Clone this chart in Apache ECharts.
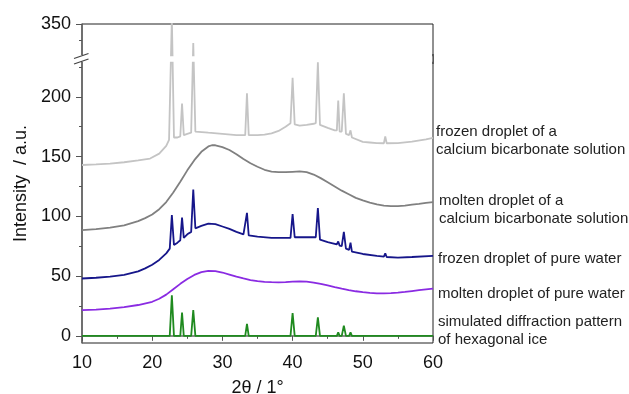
<!DOCTYPE html>
<html>
<head>
<meta charset="utf-8">
<script src="https://cdn.jsdelivr.net/npm/echarts@6/dist/echarts.min.js"></script>
<style>
  html, body { margin: 0; padding: 0; background: #fff; }
  #main { width: 629px; height: 394px; }
</style>
</head>
<body>
<div id="main"></div>
<script>
// 2theta, intensity pairs
var hexIce = [[10,0],[22.5,0],[22.8,34],[23.1,0],[24.0,0],[24.25,19.5],[24.5,0],[25.55,0],[25.85,21.5],[26.15,0],
  [33.25,0],[33.5,10],[33.75,0],[39.7,0],[40.0,19],[40.3,0],[43.3,0],[43.6,15.5],[43.9,0],[46.3,0],[46.5,3],[46.7,0],
  [47.0,0],[47.3,8.5],[47.6,0],[48.05,0],[48.25,3],[48.45,0],[53.0,0],[53.2,1],[53.4,0],[60,0]];

var moltenWater = [[10,21.5],[12,22],[14,22.8],[16,24],[18,25.8],[20,28.5],[21,31],[22,34.5],[23,39],[24,43.5],
  [25,47.5],[26,51],[27,53.3],[28,54.4],[29,54.2],[30,53],[31,51.3],[32,49.5],[33,48],[34,46.7],[35,45.8],[36,45.2],
  [37,44.9],[38,44.8],[39,45],[40,45.3],[41,45.5],[42,45.3],[43,44.6],[44,43.5],[45,42.2],[46,40.8],[47,39.5],
  [48,38.3],[49,37.3],[50,36.6],[51,36],[52,35.6],[53,35.5],[54,35.7],[55,36.2],[56,36.8],[57,37.5],[58,38.2],
  [59,38.9],[60,39.6]];

var frozenWater = [[10,48],[12,48.6],[14,49.5],[16,51],[18,54],[19,56.5],[20,59.5],[21,63.5],[22,69],[22.5,73],
  [22.8,101],[23.1,76],[23.6,78],[24.0,80],[24.25,99],[24.5,82],[25.0,85],[25.55,87],[25.85,122.5],[26.15,90],
  [27,92],[28,94],[29,93.5],[30,91.5],[31,89.5],[32,87],[33,85],[33.25,84.5],[33.5,103],[33.75,84],[35,83],[37,82],
  [39,82],[39.7,82],[40.0,102],[40.3,82.5],[41,82.5],[43.3,82.5],[43.6,107],[43.9,80.5],[45,78.5],[46.3,76.5],
  [46.5,79],[46.7,75.5],[47.0,75],[47.3,87],[47.6,73],[48.05,72],[48.25,78],[48.45,70.5],[50,68.5],[52,67],
  [53.0,66.3],[53.2,69],[53.4,66],[55,65.5],[57,66],[60,67]];

var moltenCalcium = [[10,88.5],[12,89.3],[14,90.5],[16,92.5],[18,96],[19,98.5],[20,101.5],[21,106],[22,112],
  [23,120],[24,129],[25,138.5],[26,147],[27,154],[28,158.5],[28.5,159.5],[29,159.5],[30,158],[31,155.5],[32,152],
  [33,148],[34,144.5],[35,141.5],[36,139],[37,137.5],[38,137],[39,137],[40,137.3],[41,137.6],[42,137],[43,135],
  [44,132],[45,128.5],[46,125],[47,121.5],[48,118.5],[49,115.5],[50,113.3],[51,111.5],[52,110],[53,109],
  [54,108.5],[55,108.5],[56,109],[57,109.8],[58,110.5],[59,111.3],[60,112]];

var frozenCalcium = [[10,143],[12,143.5],[14,144.2],[16,145.3],[18,146.8],[19.7,148.4],[21,152.5],[22,159],
  [22.4,164],[22.8,355],[23.1,166],[23.6,166],[24.0,167],[24.25,194.5],[24.5,168],[25.0,169],[25.55,170],
  [25.85,334],[26.15,171],[28,170],[30,169],[32,168],[33.25,168],[33.5,203],[33.75,168],[35,168],[36,168.4],
  [37,169.5],[38,171.5],[39,175],[39.7,178],[40.0,216],[40.3,177],[41,176],[42,176.5],[43,177.5],[43.3,178],
  [43.6,229],[43.9,176.5],[45,174],[46,172],[46.3,172],[46.5,197],[46.7,171],[47.0,171],[47.3,203],[47.6,169],
  [48.05,168],[48.25,172],[48.45,166],[50,162.3],[51,161.8],[52,161.3],[53.0,161.2],[53.2,167],[53.4,161.2],
  [55,161.3],[57,162.5],[59,164.5],[60,165.7]];

var xTicks = [10, 20, 30, 40, 50, 60];
var yTicks = [0, 50, 100, 150, 200, 350];
var yMinorTicks = [25, 75, 125, 175, 225, 336.5];
var yBreak = { start: 230, end: 323 };

var seriesNames = [
  ['frozen droplet of a', 'calcium bicarbonate solution'],
  ['molten droplet of a', 'calcium bicarbonate solution'],
  ['frozen droplet of pure water'],
  ['molten droplet of pure water'],
  ['simulated diffraction pattern', 'of hexagonal ice']
];

var chartDom = document.getElementById('main');
var myChart = echarts.init(chartDom);

var font = 'Liberation Sans, Arial, sans-serif';

var makeLine = function (name, data, color) {
  return {
    name: name,
    type: 'line',
    data: data,
    showSymbol: false,
    smooth: false,
    clip: true,
    lineStyle: { color: color, width: 1.8 },
    yAxisIndex: 0
  };
};

var labelText = function (x, y, lines) {
  return {
    type: 'text',
    left: x,
    top: y,
    style: {
      text: lines.join('\n'),
      font: '15px ' + font,
      fill: '#222',
      lineHeight: 18
    }
  };
};

var yAxisBase = {
  type: 'value',
  min: -6,
  max: 350,
  breaks: [{ start: yBreak.start, end: yBreak.end, gap: 4 }],
  breakArea: {
    show: true,
    itemStyle: { color: '#fff', borderColor: '#fff', borderWidth: 0, opacity: 1 },
    zigzagAmplitude: 0,
    expandOnClick: false
  },
  splitLine: { show: false }
};

var option = {
  animation: false,
  backgroundColor: '#fff',
  grid: {
    left: 82, right: 196, top: 24, bottom: 51,
    outerBoundsMode: 'none',
    show: true, borderColor: '#222', borderWidth: 1, backgroundColor: 'transparent'
  },
  xAxis: {
    type: 'value',
    min: 10,
    max: 60,
    interval: 10,
    name: '2\u03b8 / 1\u00b0',
    nameLocation: 'middle',
    nameGap: 36,
    nameTextStyle: { fontFamily: font, fontSize: 18, color: '#111' },
    axisLine: { lineStyle: { color: '#666', width: 1.5 } },
    axisTick: { length: 5, lineStyle: { color: '#555' } },
    minorTick: { show: true, splitNumber: 2, length: 3, lineStyle: { color: '#555' } },
    axisLabel: { fontFamily: font, fontSize: 18, color: '#111', margin: 11,
      customValues: xTicks },
    splitLine: { show: false }
  },
  yAxis: [
    Object.assign({}, yAxisBase, {
      name: 'Intensity  / a.u.',
      nameLocation: 'middle',
      nameGap: 52,
      nameTextStyle: { fontFamily: font, fontSize: 18, color: '#111' },
      axisLine: { show: true, lineStyle: { color: '#666', width: 1.5 } },
      axisTick: { show: true, length: 6, lineStyle: { color: '#555' }, customValues: yTicks },
      axisLabel: { fontFamily: font, fontSize: 18, color: '#111', margin: 11, customValues: yTicks }
    }),
    Object.assign({}, yAxisBase, {
      position: 'left',
      axisLine: { show: false },
      axisTick: { show: true, length: 3, lineStyle: { color: '#555' }, customValues: yMinorTicks },
      axisLabel: { show: false }
    })
  ],
  graphic: [
    // break marks on the y axis, right frame kept continuous
    { type: 'rect', shape: { x: 78, y: 55, width: 8, height: 6 }, style: { fill: '#fff' }, z: 100 },
    { type: 'line', shape: { x1: 74, y1: 58.5, x2: 88.5, y2: 53.5 }, style: { stroke: '#444', lineWidth: 1.3 }, z: 101 },
    { type: 'line', shape: { x1: 74, y1: 64, x2: 88.5, y2: 59 }, style: { stroke: '#444', lineWidth: 1.3 }, z: 101 },
    { type: 'line', shape: { x1: 433, y1: 54, x2: 433, y2: 64 }, style: { stroke: '#222', lineWidth: 1 }, z: 101 },
    labelText(436, 123, seriesNames[0]),
    labelText(439, 192, seriesNames[1]),
    labelText(438, 250, seriesNames[2]),
    labelText(438, 285, seriesNames[3]),
    labelText(438, 313, seriesNames[4])
  ],
  series: [
    makeLine('frozen calcium', frozenCalcium, '#c4c4c4'),
    makeLine('molten calcium', moltenCalcium, '#808080'),
    makeLine('frozen water', frozenWater, '#16168a'),
    makeLine('molten water', moltenWater, '#8a2be2'),
    makeLine('hexagonal ice', hexIce, '#1f8a1f')
  ]
};

option && myChart.setOption(option);
</script>
</body>
</html>
